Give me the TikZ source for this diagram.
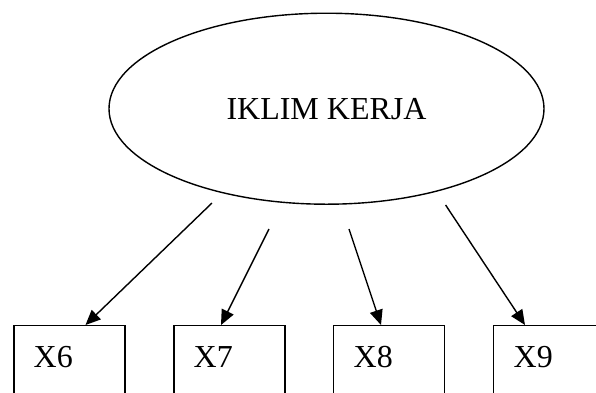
\documentclass[tikz,border=0pt]{standalone}
\usepackage{fontspec}
\setmainfont{Liberation Serif}
\usetikzlibrary{shapes.geometric,arrows.meta,calc}
\tikzset{
  latent/.style={ellipse, draw, line width=1.4pt, inner sep=0pt,
    minimum width=435pt, minimum height=191pt, font=\fontsize{32}{36}\selectfont},
  indicator/.style={rectangle, draw, line width=1.4pt, inner sep=0pt,
    minimum width=111pt, minimum height=90pt, anchor=north west},
  itemlabel/.style={anchor=base west, inner sep=0pt, font=\fontsize{32}{36}\selectfont},
  loading/.style={line width=1.4pt, -{Triangle[length=15pt,width=13pt]}}
}
\begin{document}
\begin{tikzpicture}[x=1pt,y=-1pt]
  \useasboundingbox (0,0) rectangle (596,392);
  % latent construct
  \node[latent] (ik) at (326.5,108.7) {IKLIM KERJA};
  % indicator boxes
  \node[indicator] (x6) at (13.3,325) {};
  \node[indicator] (x7) at (173.3,325) {};
  \node[indicator] (x8) at (333,325) {};
  \node[indicator] (x9) at (493,325) {};
  \node[itemlabel] (l6) at (33.5,367) {X6};
  \node[itemlabel] (l7) at (193.5,367) {X7};
  \node[itemlabel] (l8) at (353.5,367) {X8};
  \node[itemlabel] (l9) at (513.5,367) {X9};
  % arrow start points just below the ellipse
  \coordinate (s6) at (212,203);
  \coordinate (s7) at (269,229);
  \coordinate (s8) at (349,229);
  \coordinate (s9) at (445.6,205);
  % loadings
  \draw[loading] (s6) -- ($(x6.north west)+(72.2,0)$);
  \draw[loading] (s7) -- ($(x7.north west)+(47.7,0)$);
  \draw[loading] (s8) -- ($(x8.north west)+(48,0)$);
  \draw[loading] (s9) -- ($(x9.north west)+(32,0)$);
\end{tikzpicture}
\end{document}
